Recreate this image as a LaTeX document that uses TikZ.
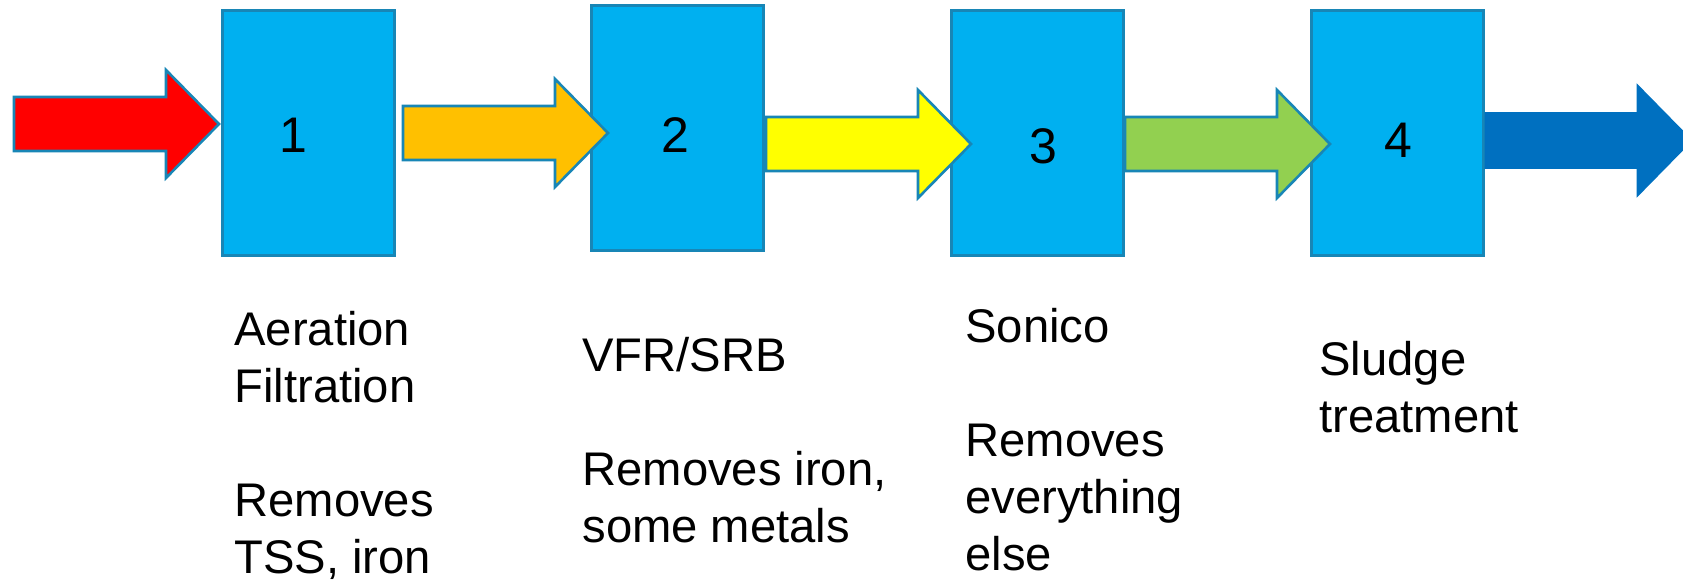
\documentclass[tikz,border=0pt]{standalone}
\usepackage{fontspec}
\setmainfont{Liberation Sans}
\usepackage{xcolor}
\usetikzlibrary{positioning}
\definecolor{boxblue}{RGB}{0,176,240}
\definecolor{edgeblue}{RGB}{24,134,182}
\definecolor{arrred}{RGB}{255,0,0}
\definecolor{arrorange}{RGB}{255,192,0}
\definecolor{arryellow}{RGB}{255,255,0}
\definecolor{arrgreen}{RGB}{146,208,80}
\definecolor{arrblue}{RGB}{0,112,192}
\tikzset{
  stage/.style={draw=edgeblue,fill=boxblue,line width=1.3pt,inner sep=0pt,
                minimum width=86pt,minimum height=122.5pt},
  num/.style={inner sep=0pt,font=\fontsize{25}{30}\selectfont},
  note/.style={anchor=base west,align=left,inner sep=0pt,
               font=\fontsize{23.6}{28.5}\selectfont},
  barrow/.style={draw=edgeblue,line width=1.3pt,line join=miter},
  blockarr/.pic={\path[barrow,#1] (0,-27) -- (152,-27) -- (152,-54) -- (205,0)
                   -- (152,54) -- (152,27) -- (0,27) -- cycle;},
}

\begin{document}
\begin{tikzpicture}[x=0.5pt,y=-0.5pt]
  \useasboundingbox (0,0) rectangle (1683,579);

  \node[stage] (aer)    at (308.5,133) {};
  \node[stage] (vfr)    at (677.5,128) {};
  \node[stage] (sonico) at (1037.5,133) {};
  \node[stage] (sludge) at (1397.5,133) {};

  \pic (inflow) at (14,124)    {blockarr={fill=arrred}};
  \pic (flowa)  at (403,133)   {blockarr={fill=arrorange}};
  \pic (flowb)  at (766,144)   {blockarr={fill=arryellow}};
  \pic (flowc)  at (1125,144)  {blockarr={fill=arrgreen}};
  \pic (outflow) at (1486,140.5) {blockarr={fill=arrblue,draw=arrblue}};

  \node[num] (n1) at (293,135)  {1};
  \node[num] (n2) at (675,135)  {2};
  \node[num] (n3) at (1043,146) {3};
  \node[num] (n4) at (1398,140) {4};

  % anchors sit on the last line of each note
  \node[note] (t1) at (234,573)  {Aeration\\Filtration\\[28.5pt]Removes\\TSS, iron};
  \node[note] (t2) at (582,542)  {VFR/SRB\\[28.5pt]Removes iron,\\some metals};
  \node[note] (t3) at (965,570)  {Sonico\\[28.5pt]Removes\\everything\\else};
  \node[note] (t4) at (1319,432) {Sludge\\treatment};
\end{tikzpicture}
\end{document}
